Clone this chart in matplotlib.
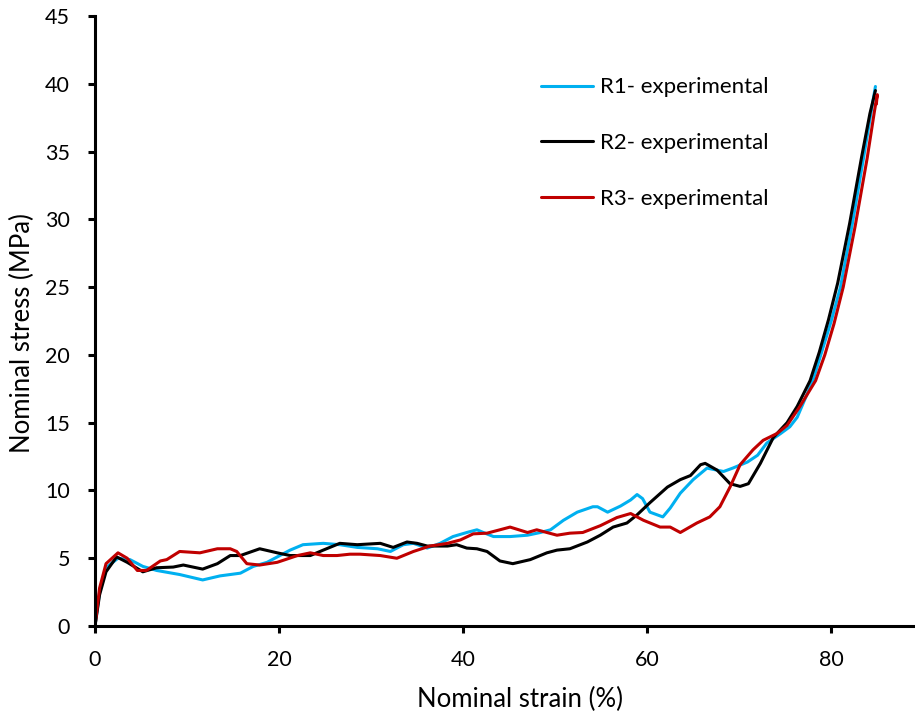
import matplotlib
matplotlib.use('Agg')
import matplotlib.pyplot as plt

# R1 stress-strain readings
r1_strain = [0, 0.5, 1.2, 2.5, 3.8, 5.2, 6.7, 9.2, 11.7, 13.6, 15.8, 17.2, 18.7, 21.2, 22.6,
             24.8, 26.6, 28.5, 30.7, 32.1, 33.5, 34.6, 36.1, 37.5, 38.9, 40.4, 41.5, 42.2,
             43.3, 45.1, 47.0, 48.4, 49.5, 50.9, 52.4, 54.1, 54.6, 55.7, 57.1, 58.2, 58.9,
             59.5, 60.3, 61.7, 62.5, 63.6, 65.0, 66.5, 68.3, 69.3, 70.9, 72.0, 73.0, 74.5,
             75.5, 76.3, 78.0, 79.0, 80.0, 81.0, 82.3, 83.5, 84.3, 84.8]
r1_stress = [0, 2.5, 4.3, 5.0, 4.9, 4.4, 4.1, 3.8, 3.4, 3.7, 3.9, 4.4, 4.7, 5.6, 6.0,
             6.1, 6.0, 5.8, 5.7, 5.5, 6.0, 6.1, 5.75, 6.1, 6.6, 6.9, 7.1, 6.9,
             6.6, 6.6, 6.7, 6.9, 7.1, 7.8, 8.4, 8.8, 8.8, 8.4, 8.85, 9.3, 9.7,
             9.4, 8.4, 8.05, 8.7, 9.8, 10.8, 11.65, 11.4, 11.65, 12.1, 12.6, 13.5, 14.2,
             14.7, 15.4, 18.1, 20.3, 22.5, 25.0, 29.7, 34.5, 37.8, 39.8]

# R2 stress-strain readings
r2_strain = [0, 0.5, 1.2, 2.35, 3.5, 5.2, 6.7, 8.5, 9.6, 11.7, 13.3, 14.7, 15.8, 17.9, 19.8,
             21.2, 23.4, 24.8, 26.6, 28.5, 31.0, 32.4, 33.9, 35.0, 36.1, 38.3, 39.3, 40.4,
             41.5, 42.6, 44.0, 45.4, 47.3, 49.1, 50.2, 51.6, 53.5, 54.9, 56.3, 57.8, 58.9,
             60.3, 62.2, 63.6, 64.7, 65.8, 66.3, 67.6, 69.0, 70.1, 71.0, 72.3, 73.7, 75.2,
             76.3, 77.7, 78.7, 79.7, 80.7, 82.0, 83.3, 84.2, 84.8]
r2_stress = [0, 2.3, 4.0, 5.1, 4.7, 4.0, 4.3, 4.35, 4.5, 4.2, 4.6, 5.2, 5.2, 5.7, 5.4,
             5.2, 5.2, 5.6, 6.1, 6.0, 6.1, 5.8, 6.2, 6.1, 5.9, 5.9, 6.0, 5.75,
             5.7, 5.5, 4.8, 4.6, 4.9, 5.4, 5.6, 5.7, 6.2, 6.7, 7.3, 7.6, 8.2,
             9.1, 10.25, 10.8, 11.1, 11.9, 12.0, 11.5, 10.5, 10.3, 10.5, 12.0, 13.9, 15.0,
             16.2, 18.1, 20.2, 22.6, 25.3, 29.7, 34.6, 37.8, 39.5]

# R3 stress-strain readings
r3_strain = [0, 0.5, 1.2, 2.5, 3.5, 4.6, 5.6, 7.1, 7.8, 9.2, 11.4, 13.3, 14.7, 15.4, 16.5,
             17.9, 19.8, 22.0, 23.4, 24.8, 26.3, 27.7, 28.8, 31.0, 32.8, 34.6, 36.4, 38.3,
             39.7, 41.1, 42.6, 44.0, 45.1, 47.0, 48.0, 49.1, 50.2, 51.6, 53.0, 54.9, 56.7,
             58.2, 59.6, 61.4, 62.5, 63.6, 65.4, 66.8, 67.9, 69.0, 70.1, 71.5, 72.6, 74.1,
             75.2, 76.6, 78.3, 79.3, 80.3, 81.3, 82.6, 83.9, 84.7, 85.0, 84.9]
r3_stress = [0, 2.8, 4.6, 5.4, 5.0, 4.1, 4.1, 4.8, 4.9, 5.5, 5.4, 5.7, 5.7, 5.5, 4.6,
             4.5, 4.7, 5.2, 5.4, 5.2, 5.2, 5.3, 5.3, 5.2, 5.0, 5.5, 5.9, 6.1,
             6.35, 6.8, 6.85, 7.1, 7.3, 6.9, 7.1, 6.9, 6.7, 6.85, 6.9, 7.4, 8.0,
             8.3, 7.8, 7.3, 7.3, 6.9, 7.6, 8.05, 8.8, 10.25, 11.9, 13.0, 13.7, 14.2,
             14.8, 16.2, 18.1, 20.0, 22.3, 25.0, 29.5, 34.5, 38.0, 39.2, 38.5]

series = [
    ('R1- experimental', r1_strain, r1_stress, '#00B0F0'),
    ('R2- experimental', r2_strain, r2_stress, '#000000'),
    ('R3- experimental', r3_strain, r3_stress, '#C00000'),
]

plt.rcParams['font.family'] = ['Lato', 'DejaVu Sans']

fig = plt.figure(figsize=(9.15, 7.14), dpi=100)
ax = fig.add_axes([0.1038, 0.1232, 0.8962, 0.8544])

for label, x, y, color in series:
    ax.plot(x, y, color=color, lw=2.2, label=label, solid_capstyle='round')

ax.set_xlim(0, 89.1)
ax.set_ylim(0, 45)
ax.set_xticks([0, 20, 40, 60, 80])
ax.set_yticks(range(0, 46, 5))

for side in ('top', 'right'):
    ax.spines[side].set_visible(False)
for side in ('left', 'bottom'):
    ax.spines[side].set_linewidth(2.2)

ax.tick_params(axis='both', direction='out', length=5, width=2.2, labelsize=15.5,
               colors='black')
ax.tick_params(axis='x', pad=12)
ax.tick_params(axis='y', pad=13)

ax.set_xlabel('Nominal strain (%)', fontsize=18.5, va='center')
ax.xaxis.set_label_coords(0.518, -0.121)
ax.set_ylabel('Nominal stress (MPa)', fontsize=18.5, va='center')
ax.yaxis.set_label_coords(-0.088, 0.48)

ax.legend(loc='upper left', bbox_to_anchor=(0.5195, 0.932), frameon=False, fontsize=16,
          handlelength=2.35, handletextpad=0.32, labelspacing=1.6)

fig.savefig('out.png', dpi=100)
